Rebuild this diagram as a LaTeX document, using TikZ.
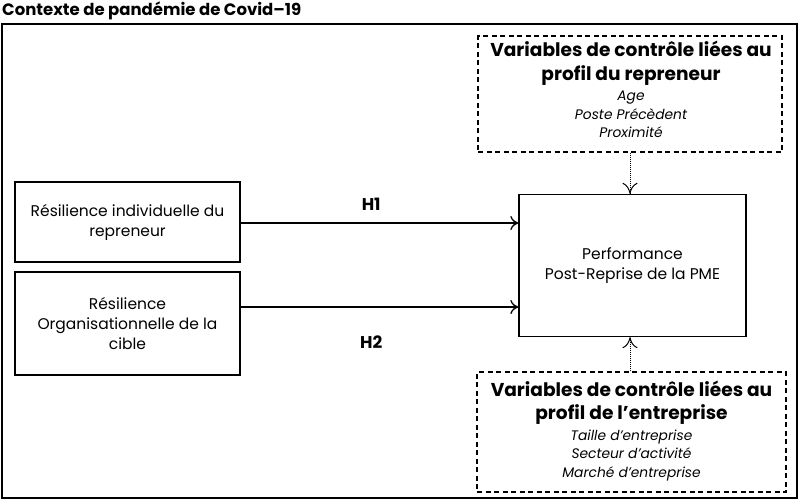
\documentclass[tikz,border=0pt]{standalone}
\usepackage{fontspec}
\setmainfont{Poppins}
\usetikzlibrary{arrows.meta}
\newcommand{\headfont}{\bfseries\fontsize{18.6}{23.5}\selectfont}
\newcommand{\itemfont}{\mdseries\itshape\fontsize{13.8}{17}\selectfont}
\begin{document}
\begin{tikzpicture}[x=1pt,y=-1pt,
  solidbox/.style={draw, line width=1.3pt, align=center, inner sep=0pt, font=\fontsize{15.5}{20}\selectfont},
  dashbox/.style={draw, dash pattern=on 5pt off 3.5pt, line width=1.3pt, inner sep=0pt},
  boxtext/.style={align=center, inner sep=0pt, font=\headfont},
  mainarrow/.style={-{To[length=8pt,width=14pt]}, line width=1.3pt},
  dotarrow/.style={-{To[length=11pt,width=15pt]}, dash pattern=on 1pt off 1pt, line width=1pt},
  lbl/.style={font=\bfseries\fontsize{17}{20}\selectfont}
]
\useasboundingbox (0,0) rectangle (800,501);
\node[anchor=west, font=\bfseries\fontsize{16.5}{20}\selectfont, inner sep=0pt] (title) at (2,11) {Contexte de pandémie de Covid--19};
\node[draw, line width=1.8pt, minimum width=795pt, minimum height=474pt, inner sep=0pt] (frame) at (399.5,261) {};
% left boxes
\node[solidbox, minimum width=225pt, minimum height=80pt] (r1) at (127.5,222) {Résilience individuelle du\\repreneur};
\node[solidbox, minimum width=225pt, minimum height=103pt] (r2) at (127.5,323.5) {Résilience\\Organisationnelle de la\\cible};
% performance
\node[solidbox, minimum width=227pt, minimum height=142pt] (perf) at (632.5,265.5) {Performance\\Post-Reprise de la PME};
% dashed boxes
\node[dashbox, minimum width=304pt, minimum height=116pt] (top) at (630,94) {};
\node[boxtext] (toptext) at (631,89.5) {%
  Variables de contrôle liées au\\profil du repreneur\\[-3pt]
  \itemfont Age\\[-5pt]\itemfont Poste Précèdent\\[-5pt]\itemfont Proximité};
\node[dashbox, minimum width=309pt, minimum height=120pt] (bot) at (631.5,432) {};
\node[boxtext] (bottext) at (631.5,431) {%
  Variables de contrôle liées au\\profil de l’entreprise\\[-3pt]
  \itemfont Taille d’entreprise\\[-5pt]\itemfont Secteur d’activité\\[-5pt]\itemfont Marché d’entreprise};
% arrows
\draw[mainarrow] (r1.east |- 0,223) -- (perf.west |- 0,223) node[lbl, pos=0.47, above=9pt] (h1) {H1};
\draw[mainarrow] (r2.east |- 0,307) -- (perf.west |- 0,307) node[lbl, pos=0.47, below=25pt] (h2) {H2};
\draw[dotarrow] (top.south -| 630,0) -- (perf.north -| 630,0);
\draw[dotarrow] (bot.north -| 630,0) -- (perf.south -| 630,0);
\end{tikzpicture}
\end{document}
